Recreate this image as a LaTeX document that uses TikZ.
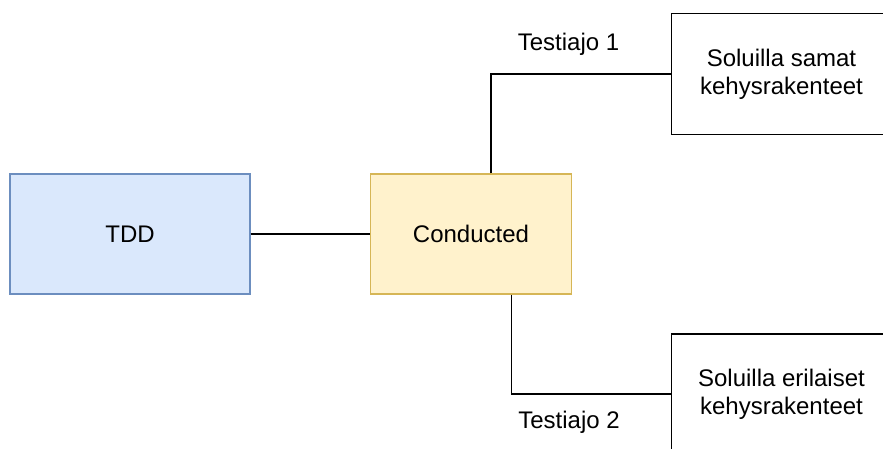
\documentclass[tikz,border=0pt]{standalone}
\usepackage{fontspec}
\setmainfont{Liberation Sans}
\definecolor{tddfill}{HTML}{DAE8FC}
\definecolor{tdddraw}{HTML}{6C8EBF}
\definecolor{condfill}{HTML}{FFF2CC}
\definecolor{conddraw}{HTML}{D6B656}
\tikzset{
  box/.style={draw, line width=1.3pt, minimum width=220pt, minimum height=120pt, align=center, inner sep=0pt},
  lbl/.style={inner sep=0pt},
  link/.style={draw, line width=1.3pt}
}
\begin{document}
\begin{tikzpicture}[x=1pt, y=-1pt, font=\fontsize{24}{28}\selectfont]
\useasboundingbox (0,0) rectangle (883,448);
\node[box, fill=tddfill, draw=tdddraw, minimum width=240pt] at (130,234) (tdd) {TDD};
\node[box, fill=condfill, draw=conddraw, minimum width=201pt] at (471,234) (cond) {Conducted};
\node[box, minimum height=121pt] at (781.5,74) (same) {Soluilla samat\\kehysrakenteet};
\node[box] at (781.5,394) (diff) {Soluilla erilaiset\\kehysrakenteet};
\node[lbl] at (568.5,44) (run1) {Testiajo 1};
\node[lbl] at (569,422) (run2) {Testiajo 2};
  \draw[link] (tdd) -- (cond);
  \draw[link] ([xshift=20pt]cond.north) |- (same.west);
  \draw[link] ([xshift=40.5pt]cond.south) |- (diff.west);
\end{tikzpicture}
\end{document}
